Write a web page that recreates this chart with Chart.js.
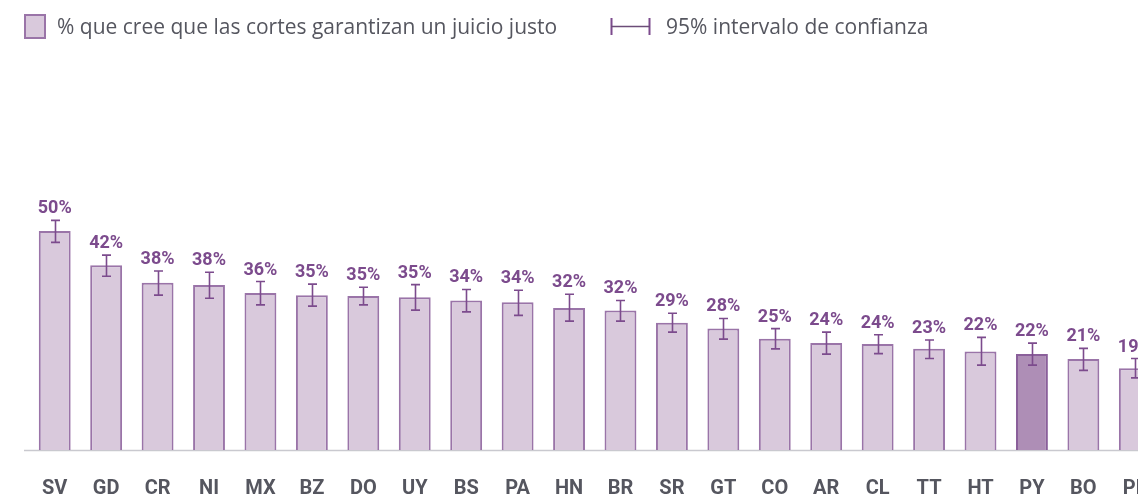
<!DOCTYPE html>
<html>
<head>
<meta charset="utf-8">
<script src="https://cdn.jsdelivr.net/npm/chart.js@4"></script>
<style>
html,body{margin:0;padding:0;background:#fff;overflow:hidden;width:1138px;height:497px;}
#wrap{position:absolute;left:0;top:0;width:1174px;height:497px;}
#legend{position:absolute;left:0;top:0;width:1138px;height:50px;font-family:"Open Sans",sans-serif;font-size:21px;color:#55565f;}
.lg{position:absolute;top:11px;line-height:30px;white-space:nowrap;}
.sq{position:absolute;left:24px;top:14px;width:18px;height:21px;background:#d9c9dc;border:2px solid #9a74a8;}
</style>
</head>
<body>
<div id="wrap"><canvas id="c" width="1174" height="497"></canvas></div>
<div id="legend">
  <div class="sq"></div>
  <div class="lg" style="left:57px">% que cree que las cortes garantizan un juicio justo</div>
  <canvas id="ico" width="44" height="24" style="position:absolute;left:609px;top:14px"></canvas>
  <div class="lg" style="left:666px">95% intervalo de confianza</div>
</div>
<script>
const categories = ["SV","GD","CR","NI","MX","BZ","DO","UY","BS","PA","HN","BR","SR","GT","CO","AR","CL","TT","HT","PY","BO","PE"];
const values     = [49.8,42.0,38.0,37.5,35.7,35.2,35.0,34.7,34.0,33.6,32.3,31.7,28.9,27.6,25.3,24.3,24.1,23.0,22.4,21.8,20.7,18.6];
const ciLow      = [47.2,39.5,35.2,34.5,33.0,32.7,33.0,31.8,31.4,30.6,29.3,29.3,26.8,25.2,23.0,21.8,21.9,20.8,19.3,19.3,18.1,16.4];
const ciHigh     = [52.2,44.3,40.7,40.4,38.3,37.7,37.0,37.6,36.5,36.3,35.4,34.0,31.1,29.9,27.6,26.8,26.2,25.0,25.6,24.3,23.1,20.8];
const highlight  = "PY";

const PURPLE = "#7c4b8d";
const fills = categories.map(c => c === highlight ? "#ae8eb6" : "#d9c9dc");
const borders = categories.map(c => c === highlight ? "#8a5f9a" : "#9a74a8");

(function(){
  const g = document.getElementById('ico').getContext('2d');
  g.strokeStyle = PURPLE; g.lineWidth = 2;
  g.beginPath();
  g.moveTo(2.5,4); g.lineTo(2.5,21);
  g.moveTo(40.5,4); g.lineTo(40.5,21);
  g.stroke();
  g.lineWidth = 1.5; g.strokeStyle = "#6b4d78";
  g.beginPath(); g.moveTo(2,12.5); g.lineTo(41,12.5); g.stroke();
})();

const overlay = {
  id: 'overlay',
  beforeDatasetsDraw(chart){
    const ctx = chart.ctx, y = chart.scales.y;
    const yb = y.getPixelForValue(0);
    ctx.save();
    ctx.strokeStyle = "#c9c9cf"; ctx.lineWidth = 1.5;
    ctx.beginPath(); ctx.moveTo(24, yb + 0.5); ctx.lineTo(chart.width, yb + 0.5); ctx.stroke();
    ctx.restore();
  },
  afterDatasetsDraw(chart){
    const ctx = chart.ctx, x = chart.scales.x, y = chart.scales.y;
    ctx.save();
    ctx.strokeStyle = PURPLE; ctx.lineWidth = 1.6;
    categories.forEach((c,i) => {
      const px = Math.round(x.getPixelForValue(i)) + 0.5;
      const yl = y.getPixelForValue(ciLow[i]), yh = y.getPixelForValue(ciHigh[i]);
      ctx.beginPath();
      ctx.moveTo(px, yl); ctx.lineTo(px, yh);
      ctx.moveTo(px-4.5, yl); ctx.lineTo(px+4.5, yl);
      ctx.moveTo(px-4.5, yh); ctx.lineTo(px+4.5, yh);
      ctx.stroke();
    });
    ctx.fillStyle = PURPLE;
    ctx.font = "bold 18px Roboto";
    ctx.textAlign = "center"; ctx.textBaseline = "alphabetic";
    categories.forEach((c,i) => {
      const px = x.getPixelForValue(i);
      const yh = y.getPixelForValue(ciHigh[i]);
      ctx.fillText(Math.round(values[i]) + "%", px, yh - 7);
    });
    ctx.restore();
  }
};

new Chart(document.getElementById('c'), {
  type: 'bar',
  data: {
    labels: categories,
    datasets: [{
      data: values,
      backgroundColor: fills,
      borderColor: borders,
      borderWidth: 2,
      borderSkipped: 'bottom',
      barPercentage: 0.62,
      categoryPercentage: 1.0
    }]
  },
  options: {
    responsive: false,
    animation: false,
    devicePixelRatio: 1,
    layout: { padding: { left: 29, right: 5, top: 0, bottom: 0 } },
    plugins: { legend: { display: false }, tooltip: { enabled: false } },
    scales: {
      x: {
        grid: { display: false, drawTicks: false },
        border: { display: false },
        ticks: { color: "#55565f", font: { family: "Roboto", weight: "bold", size: 20 }, padding: 27, maxRotation: 0, autoSkip: false },
        afterFit(s){ s.height = 47; }
      },
      y: {
        display: false,
        min: 0, max: 102.3
      }
    }
  },
  plugins: [overlay]
});
</script>
</body>
</html>
